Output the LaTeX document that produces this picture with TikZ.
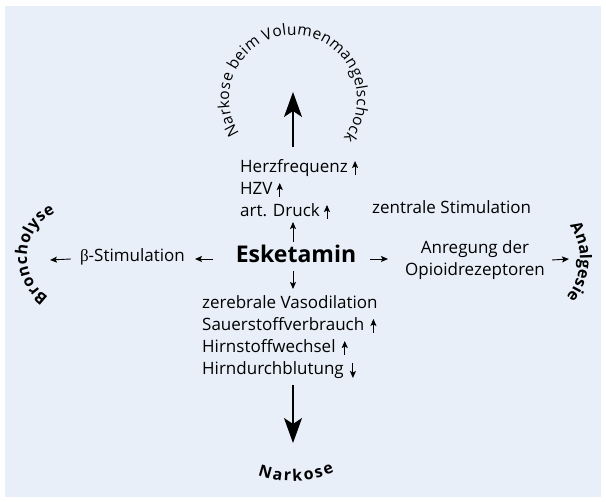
\documentclass[tikz,border=0pt]{standalone}
\usepackage{fontspec}
\setmainfont{Open Sans}
\newfontfamily\greekfont{Liberation Serif}
\usepackage{tikz}
\usetikzlibrary{positioning}
\usetikzlibrary{arrows.meta}
\usetikzlibrary{decorations.text}
\definecolor{panelblue}{RGB}{232,239,249}
\tikzset{
effect/.style={inner sep=0pt, anchor=base west, font=\fontsize{17}{22}\selectfont},
small_arrow/.style={-{Stealth[length=7pt,width=6pt,inset=1.5pt]}, line width=0.9pt},
big_arrow/.style={-{Stealth[length=25pt,width=18pt,inset=6pt]}, line width=1.3pt},
arc_text/.style={decorate, decoration={text along path, text align=fit to path, text={#1}}}
}

\begin{document}
\begin{tikzpicture}[x=1pt,y=1pt]
    \useasboundingbox (0,0) rectangle (606,502);
    \fill[panelblue] (5,5) rectangle (601,496);

    \node[inner sep=0pt, anchor=base, font=\fontsize{23}{26}\selectfont\bfseries] (eske) at (296,239) {Esketamin};

    % oben
    \node[effect] (herz) at (240,329) {Herzfrequenz};
    \node[effect] (hzv) at ([yshift=-22pt]herz.base west) {HZV};
    \node[effect] (druck) at ([yshift=-22pt]hzv.base west) {art. Druck};
    \draw[small_arrow] ([xshift=7pt,yshift=-2pt]herz.base east) -- ++(0,14pt);
    \draw[small_arrow] ([xshift=7pt,yshift=-2pt]hzv.base east) -- ++(0,14pt);
    \draw[small_arrow] ([xshift=7pt,yshift=-2pt]druck.base east) -- ++(0,14pt);

    % unten
    \node[effect] (vaso) at (202,193) {zerebrale Vasodilation};
    \node[effect] (sauer) at ([yshift=-22pt]vaso.base west) {Sauerstoffverbrauch};
    \node[effect] (hirn) at ([yshift=-22pt]sauer.base west) {Hirnstoffwechsel};
    \node[effect] (blut) at ([yshift=-22pt]hirn.base west) {Hirndurchblutung};
    \draw[small_arrow] ([xshift=9pt,yshift=-2pt]sauer.base east) -- ++(0,14pt);
    \draw[small_arrow] ([xshift=9pt,yshift=-2pt]hirn.base east) -- ++(0,14pt);
    \draw[small_arrow] ([xshift=9pt,yshift=12pt]blut.base east) -- ++(0,-15pt);

    % seitlich
    \node[effect, anchor=base east] (beta) at (185,240) {{\greekfont β}-Stimulation};
    \node[effect] (zentral) at (372,288) {zentrale Stimulation};
    \node[inner sep=0pt, align=center, font=\fontsize{17}{22}\selectfont] (opioid) at (475,242) {Anregung der\\Opioidrezeptoren};

    % Pfeile von Esketamin
    \coordinate (e_up) at (293,260);
    \coordinate (e_up_tip) at (293,280);
    \coordinate (e_down) at (293,231);
    \coordinate (e_down_tip) at (293,213);
    \coordinate (e_left) at (213,243);
    \coordinate (e_left_tip) at (195,243);
    \coordinate (e_right) at (370,243);
    \coordinate (e_right_tip) at (388,243);
    \draw[small_arrow] (e_up) -- (e_up_tip);
    \draw[small_arrow] (e_down) -- (e_down_tip);
    \draw[small_arrow] (e_left) -- (e_left_tip);
    \draw[small_arrow] (e_right) -- (e_right_tip);

    % Pfeile zu den Wirkungen
    \coordinate (broncho_tip) at (50,242);
    \coordinate (analg_tip) at (569,243);
    \draw[small_arrow] ([xshift=-9pt,yshift=3pt]beta.base west) -- (broncho_tip);
    \draw[small_arrow] ([xshift=7pt]opioid.east) -- (analg_tip);

    \coordinate (circ_c) at (293,403);
    \coordinate (up_tip) at (293,410);
    \coordinate (up_foot) at (293,355);
    \coordinate (down_foot) at (293,117);
    \coordinate (down_tip) at (293,59);
    \draw[big_arrow] (up_foot) -- (up_tip);
    \draw[big_arrow] (down_foot) -- (down_tip);

    % Bogentexte
    \path[arc_text={|\fontsize{15.5}{18}\selectfont|Narkose beim Volumenmangelschock}] (circ_c) ++(213:64) arc[start angle=213, end angle=-38, radius=64];
    \path[arc_text={|\fontsize{16}{18}\selectfont\bfseries|Broncholyse}] (76,245) ++(236:49) arc[start angle=236, end angle=115, radius=49];
    \path[arc_text={|\fontsize{16}{18}\selectfont\bfseries|Analgesie}] (520,243) ++(34:60) arc[start angle=34, end angle=-36, radius=60];
    \path[arc_text={|\fontsize{16}{18}\selectfont\bfseries|Narkose}] (292,121) ++(250:100) arc[start angle=250, end angle=295, radius=100];
\end{tikzpicture}
\end{document}
